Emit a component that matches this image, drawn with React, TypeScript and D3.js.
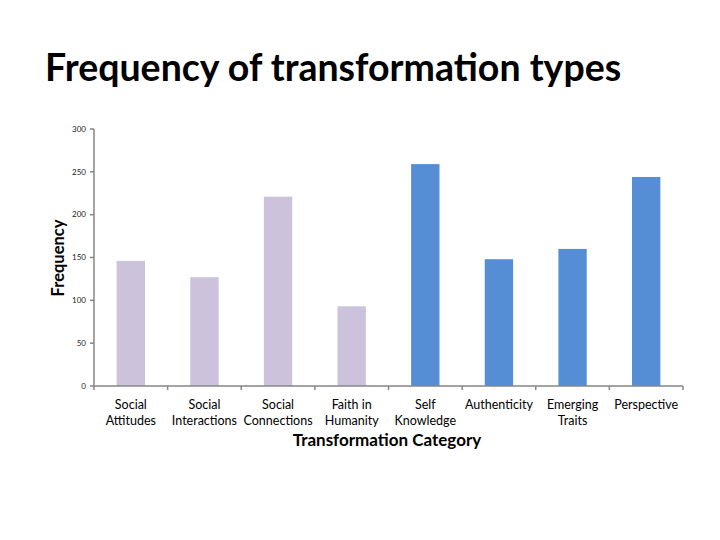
import React from "react";
import * as d3 from "d3";

const categories: string[][] = [
  ["Social", "Attitudes"],
  ["Social", "Interactions"],
  ["Social", "Connections"],
  ["Faith in", "Humanity"],
  ["Self", "Knowledge"],
  ["Authenticity"],
  ["Emerging", "Traits"],
  ["Perspective"],
];
const values: number[] = [146, 127, 221, 93, 259, 148, 160, 244];
const groups: string[] = ["a", "a", "a", "a", "b", "b", "b", "b"];
const yTicks: number[] = [0, 50, 100, 150, 200, 250, 300];

const colorFor: Record<string, string> = { a: "#CCC2DB", b: "#558ED5" };

export default function App() {
  const W = 720;
  const H = 540;
  const left = 94;
  const right = 683;
  const top = 129;
  const bottom = 386;
  const x = d3
    .scaleBand<number>()
    .domain(d3.range(values.length))
    .range([left, right])
    .padding(0);
  const y = d3.scaleLinear().domain([0, 300]).range([bottom, top]);
  const bw = x.bandwidth() * 0.385;
  const font = "Lato, 'Open Sans', sans-serif";
  const axisColor = "#868686";

  return (
    <svg
      width={W}
      height={H}
      style={{ position: "absolute", left: 0, top: 0, background: "#fff" }}
    >
      <text x={45} y={81} fontFamily={font} fontWeight="bold" fontSize={37.5} fill="#000">
        Frequency of transformation types
      </text>

      {values.map((v, i) => (
        <rect
          key={i}
          x={(x(i) as number) + x.bandwidth() / 2 - bw / 2}
          y={y(v)}
          width={bw}
          height={y(0) - y(v)}
          fill={colorFor[groups[i]]}
        />
      ))}

      {/* y axis */}
      <line x1={left} x2={left} y1={top} y2={bottom} stroke={axisColor} strokeWidth={1.5} />
      {yTicks.map((t) => (
        <g key={t}>
          <line x1={left - 4} x2={left} y1={y(t)} y2={y(t)} stroke={axisColor} strokeWidth={1.5} />
          <text
            x={left - 8}
            y={y(t)}
            dy="0.35em"
            textAnchor="end"
            fontFamily={font}
            fontSize={8}
            fill="#222"
          >
            {t}
          </text>
        </g>
      ))}

      {/* x axis */}
      <line x1={left} x2={right} y1={bottom} y2={bottom} stroke={axisColor} strokeWidth={1.5} />
      {d3.range(values.length + 1).map((i) => {
        const xx = i < values.length ? (x(i) as number) : right;
        return (
          <line key={i} x1={xx} x2={xx} y1={bottom} y2={bottom + 4} stroke={axisColor} strokeWidth={1.5} />
        );
      })}
      {categories.map((lines, i) => (
        <text
          key={i}
          x={(x(i) as number) + x.bandwidth() / 2}
          y={409}
          textAnchor="middle"
          fontFamily={font}
          fontSize={12.5}
          fill="#000"
        >
          {lines.map((l, j) => (
            <tspan key={j} x={(x(i) as number) + x.bandwidth() / 2} dy={j === 0 ? 0 : 16}>
              {l}
            </tspan>
          ))}
        </text>
      ))}

      <text
        x={387}
        y={446}
        textAnchor="middle"
        fontFamily={font}
        fontWeight="bold"
        fontSize={17}
        fill="#000"
      >
        Transformation Category
      </text>

      <text
        transform={`translate(64,258) rotate(-90)`}
        textAnchor="middle"
        fontFamily={font}
        fontWeight="bold"
        fontSize={16.5}
        fill="#000"
      >
        Frequency
      </text>
    </svg>
  );
}
